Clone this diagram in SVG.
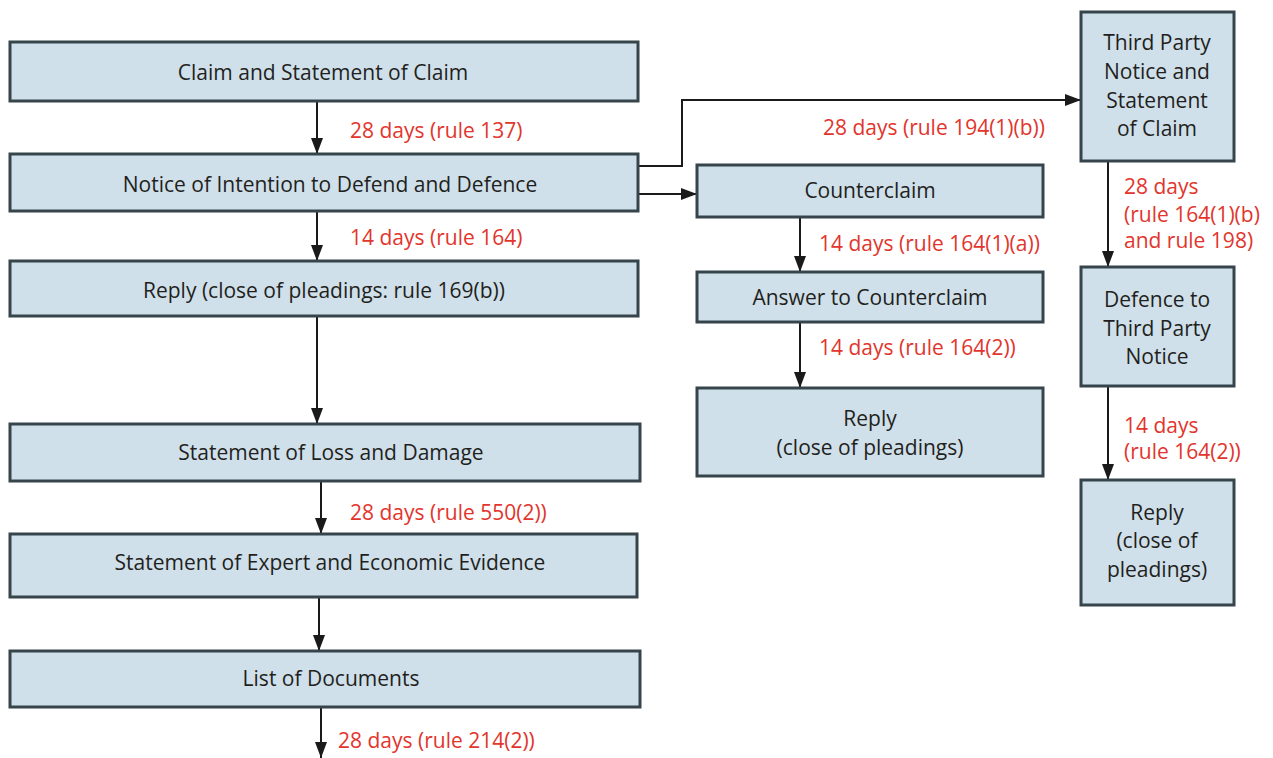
<svg xmlns="http://www.w3.org/2000/svg" width="1273" height="758" viewBox="0 0 1273 758">
<defs>
<style>
.box{fill:#cfe0ea;stroke:#36444c;stroke-width:3}
.t{font-family:"Open Sans","Noto Sans",sans-serif;font-size:21px;fill:#231f20;text-anchor:middle;dominant-baseline:central}
.r{font-family:"Open Sans","Noto Sans",sans-serif;font-size:21px;fill:#e2352d;dominant-baseline:central}
.c{fill:none;stroke:#1a1a1a;stroke-width:2}
</style>
<marker id="ah2" viewBox="0 0 10 10" refX="10" refY="5" markerWidth="16" markerHeight="12" markerUnits="userSpaceOnUse" orient="auto" preserveAspectRatio="none">
<path d="M0,0 L10,5 L0,10 z" fill="#1a1a1a"/>
</marker>
</defs>
<rect width="1273" height="758" fill="#ffffff"/>
<g id="connectors">
<path class="c" d="M317,101 V154" marker-end="url(#ah2)"/>
<path class="c" d="M317,211 V261" marker-end="url(#ah2)"/>
<path class="c" d="M317,316 V424" marker-end="url(#ah2)"/>
<path class="c" d="M321,481 V534" marker-end="url(#ah2)"/>
<path class="c" d="M319,597 V651" marker-end="url(#ah2)"/>
<path class="c" d="M321,707 V758" marker-end="url(#ah2)"/>
<path class="c" d="M638,194 H697" marker-end="url(#ah2)"/>
<path class="c" d="M638,166 H682 V100 H1081" marker-end="url(#ah2)"/>
<path class="c" d="M800,217 V272" marker-end="url(#ah2)"/>
<path class="c" d="M800,322 V388" marker-end="url(#ah2)"/>
<path class="c" d="M1108,161 V267" marker-end="url(#ah2)"/>
<path class="c" d="M1108,386 V480" marker-end="url(#ah2)"/>
<text class="r" x="350" y="130">28 days (rule 137)</text>
<text class="r" x="350" y="237">14 days (rule 164)</text>
<text class="r" x="350" y="512">28 days (rule 550(2))</text>
<text class="r" x="338" y="740">28 days (rule 214(2))</text>
<text class="r" x="1045" y="127" text-anchor="end">28 days (rule 194(1)(b))</text>
<text class="r" x="819" y="243">14 days (rule 164(1)(a))</text>
<text class="r" x="819" y="347">14 days (rule 164(2))</text>
<text class="r" x="1124" y="186">28 days</text>
<text class="r" x="1124" y="214">(rule 164(1)(b)</text>
<text class="r" x="1124" y="240">and rule 198)</text>
<text class="r" x="1124" y="425">14 days</text>
<text class="r" x="1124" y="451">(rule 164(2))</text>
</g>
<g id="n1"><rect class="box" x="10" y="42" width="628" height="59"/><text class="t" x="323" y="72">Claim and Statement of Claim</text></g>
<g id="n2"><rect class="box" x="10" y="154" width="628" height="57"/><text class="t" x="330" y="184">Notice of Intention to Defend and Defence</text></g>
<g id="n3"><rect class="box" x="10" y="261" width="628" height="55"/><text class="t" x="324" y="290">Reply (close of pleadings: rule 169(b))</text></g>
<g id="n4"><rect class="box" x="10" y="424" width="630" height="57"/><text class="t" x="331" y="452">Statement of Loss and Damage</text></g>
<g id="n5"><rect class="box" x="10" y="534" width="627" height="63"/><text class="t" x="330" y="562">Statement of Expert and Economic Evidence</text></g>
<g id="n6"><rect class="box" x="10" y="651" width="630" height="56"/><text class="t" x="331" y="678">List of Documents</text></g>
<g id="n7"><rect class="box" x="697" y="165" width="346" height="52"/><text class="t" x="870" y="190">Counterclaim</text></g>
<g id="n8"><rect class="box" x="697" y="272" width="346" height="50"/><text class="t" x="870" y="297">Answer to Counterclaim</text></g>
<g id="n9"><rect class="box" x="697" y="388" width="346" height="88"/><text class="t" x="870" y="418">Reply</text><text class="t" x="870" y="447">(close of pleadings)</text></g>
<g id="n10"><rect class="box" x="1081" y="12" width="153" height="149"/><text class="t" x="1157" y="42">Third Party</text><text class="t" x="1157" y="71">Notice and</text><text class="t" x="1157" y="100">Statement</text><text class="t" x="1157" y="128">of Claim</text></g>
<g id="n11"><rect class="box" x="1081" y="267" width="153" height="119"/><text class="t" x="1157" y="299">Defence to</text><text class="t" x="1157" y="328">Third Party</text><text class="t" x="1157" y="356">Notice</text></g>
<g id="n12"><rect class="box" x="1081" y="480" width="153" height="125"/><text class="t" x="1157" y="512">Reply</text><text class="t" x="1157" y="540">(close of</text><text class="t" x="1157" y="569">pleadings)</text></g>
</svg>
